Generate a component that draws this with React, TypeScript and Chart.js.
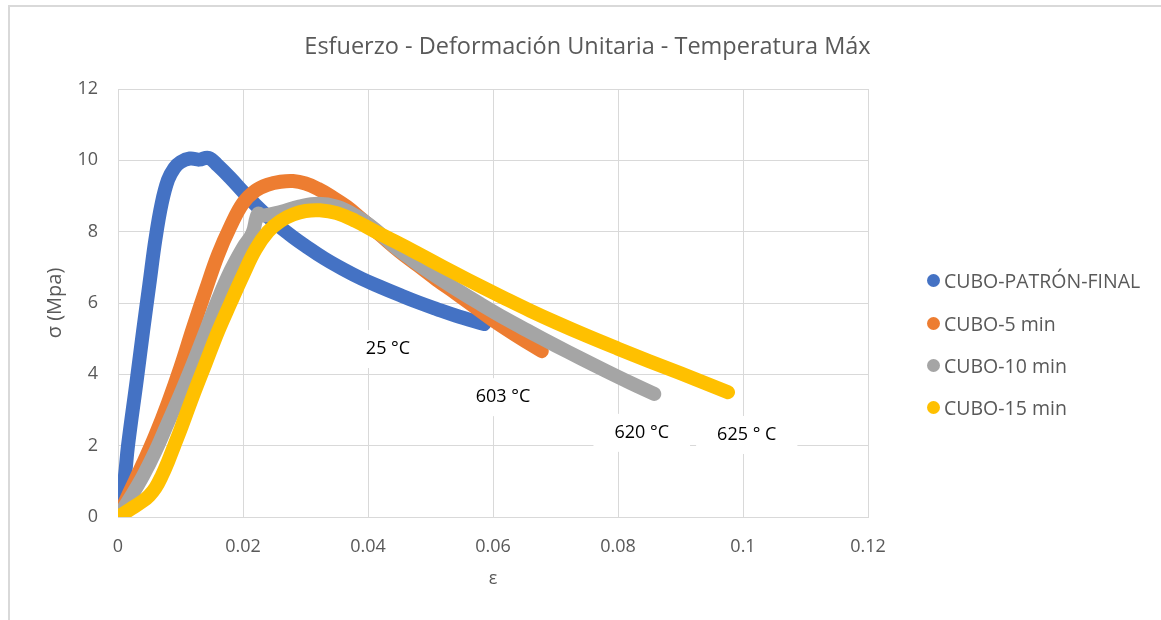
import React, { useEffect, useRef } from "react";
import { Chart, registerables } from "chart.js";

Chart.register(...registerables);

const FONT = '"Open Sans", "Noto Sans", sans-serif';

const chartTitle = "Esfuerzo - Deformación Unitaria - Temperatura Máx";
const xAxisTitle = "ε";
const yAxisTitle = "σ (Mpa)";

const seriesNames = ["CUBO-PATRÓN-FINAL", "CUBO-5 min", "CUBO-10 min", "CUBO-15 min"];
const seriesColors = ["#4472C4", "#ED7D31", "#A5A5A5", "#FFC000"];

const patronStrain = [0, 0.001, 0.0016, 0.003, 0.004, 0.005, 0.006, 0.007, 0.008, 0.009, 0.010, 0.0115, 0.013, 0.0145, 0.016, 0.018, 0.020, 0.022, 0.024, 0.026, 0.028, 0.030, 0.033, 0.036, 0.039, 0.042, 0.045, 0.048, 0.051, 0.054, 0.0586];
const patronStress = [0, 1.0, 2.0, 3.84, 5.2, 6.5, 7.8, 8.8, 9.45, 9.78, 9.95, 10.05, 10.02, 10.07, 9.85, 9.5, 9.12, 8.75, 8.42, 8.12, 7.85, 7.6, 7.25, 6.95, 6.68, 6.45, 6.23, 6.02, 5.83, 5.65, 5.41];

const min5Strain = [0, 0.002, 0.004, 0.006, 0.008, 0.010, 0.012, 0.014, 0.016, 0.018, 0.020, 0.022, 0.024, 0.026, 0.028, 0.030, 0.032, 0.034, 0.0366, 0.039, 0.042, 0.045, 0.048, 0.051, 0.054, 0.057, 0.060, 0.064, 0.0678];
const min5Stress = [0, 0.75, 1.5, 2.3, 3.2, 4.2, 5.3, 6.35, 7.35, 8.15, 8.8, 9.15, 9.32, 9.4, 9.42, 9.35, 9.2, 9.0, 8.7, 8.35, 7.9, 7.45, 7.05, 6.65, 6.28, 5.9, 5.52, 5.06, 4.65];

const min10Strain = [0, 0.002, 0.004, 0.006, 0.008, 0.010, 0.012, 0.014, 0.016, 0.018, 0.020, 0.0215, 0.0224, 0.0232, 0.026, 0.029, 0.032, 0.035, 0.038, 0.041, 0.044, 0.047, 0.050, 0.054, 0.058, 0.062, 0.066, 0.070, 0.074, 0.078, 0.082, 0.0858];
const min10Stress = [0, 0.55, 1.15, 1.85, 2.65, 3.45, 4.3, 5.2, 6.1, 6.9, 7.55, 7.95, 8.5, 8.45, 8.55, 8.7, 8.78, 8.7, 8.45, 8.08, 7.62, 7.22, 6.85, 6.4, 5.97, 5.56, 5.18, 4.81, 4.45, 4.1, 3.76, 3.45];

const min15Strain = [0, 0.002, 0.004, 0.005, 0.006, 0.007, 0.008, 0.009, 0.010, 0.012, 0.014, 0.016, 0.018, 0.020, 0.022, 0.024, 0.026, 0.028, 0.030, 0.0323, 0.035, 0.038, 0.041, 0.044, 0.047, 0.050, 0.054, 0.058, 0.062, 0.066, 0.070, 0.075, 0.080, 0.085, 0.090, 0.0976];
const min15Stress = [0, 0.22, 0.45, 0.6, 0.82, 1.15, 1.55, 2.0, 2.45, 3.4, 4.3, 5.2, 6.0, 6.78, 7.5, 8.0, 8.3, 8.48, 8.58, 8.6, 8.52, 8.3, 8.02, 7.75, 7.48, 7.2, 6.83, 6.47, 6.12, 5.78, 5.46, 5.08, 4.72, 4.37, 4.03, 3.5];

const xTicks = [0, 0.02, 0.04, 0.06, 0.08, 0.1, 0.12];
const xTickLabels = ["0", "0.02", "0.04", "0.06", "0.08", "0.1", "0.12"];
const yTicks = [0, 2, 4, 6, 8, 10, 12];

const tempLabels = ["25 °C", "603 °C", "620 °C", "625 ° C"];
const tempLabelX = [0.0432, 0.0616, 0.0838, 0.1006];
const tempLabelY = [4.71, 3.36, 2.36, 2.3];

const strains = [patronStrain, min5Strain, min10Strain, min15Strain];
const stresses = [patronStress, min5Stress, min10Stress, min15Stress];

const tempLabelPlugin = {
  id: "tempLabels",
  afterDatasetsDraw(chart: any) {
    const { ctx, scales } = chart;
    const xs = scales.x;
    const ys = scales.y;
    ctx.save();
    ctx.font = `18px ${FONT}`;
    ctx.textAlign = "center";
    ctx.textBaseline = "middle";
    tempLabels.forEach((t, i) => {
      const px = xs.getPixelForValue(tempLabelX[i]);
      const py = ys.getPixelForValue(tempLabelY[i]);
      const w = ctx.measureText(t).width + 42;
      ctx.fillStyle = "#ffffff";
      ctx.fillRect(px - w / 2, py - 19, w, 38);
      ctx.fillStyle = "#000000";
      ctx.fillText(t, px, py);
    });
    ctx.restore();
  },
};

export default function App() {
  const canvasRef = useRef<HTMLCanvasElement | null>(null);

  useEffect(() => {
    const canvas = canvasRef.current;
    if (!canvas) return;
    const datasets = seriesNames.map((name, i) => ({
      label: name,
      data: strains[i].map((x, j) => ({ x, y: stresses[i][j] })),
      showLine: true,
      borderColor: seriesColors[i],
      backgroundColor: seriesColors[i],
      borderWidth: 14,
      pointRadius: 0,
      pointHoverRadius: 0,
      tension: 0.4,
      borderCapStyle: "round" as const,
      borderJoinStyle: "round" as const,
      order: seriesNames.length - i,
      fill: false,
    }));

    const chart = new Chart(canvas, {
      type: "scatter",
      data: { datasets },
      options: {
        animation: false,
        responsive: false,
        devicePixelRatio: 1,
        layout: { padding: { left: 0, right: 293, top: 89, bottom: 0 } },
        plugins: {
          legend: { display: false },
          tooltip: { enabled: false },
          title: { display: false },
        },
        scales: {
          x: {
            type: "linear",
            min: 0,
            max: 0.12,
            afterBuildTicks: (axis: any) => {
              axis.ticks = xTicks.map((v) => ({ value: v }));
            },
            afterFit: (axis: any) => {
              axis.height = 103;
            },
            ticks: {
              color: "#595959",
              font: { family: FONT, size: 18 },
              padding: 19,
              maxRotation: 0,
              callback: (_v: any, idx: number) => xTickLabels[idx],
            },
            grid: { color: "#d9d9d9", lineWidth: 1, drawTicks: false },
            border: { display: true, color: "#d9d9d9" },
            title: {
              display: true,
              text: xAxisTitle,
              color: "#595959",
              font: { family: FONT, size: 18 },
              padding: { top: 0, bottom: 30 },
            },
          },
          y: {
            type: "linear",
            min: 0,
            max: 12,
            afterBuildTicks: (axis: any) => {
              axis.ticks = yTicks.map((v) => ({ value: v }));
            },
            afterFit: (axis: any) => {
              axis.width = 118;
            },
            ticks: {
              color: "#595959",
              font: { family: FONT, size: 18 },
              padding: 20,
            },
            grid: { color: "#d9d9d9", lineWidth: 1, drawTicks: false },
            border: { display: true, color: "#d9d9d9" },
            title: {
              display: true,
              text: yAxisTitle,
              color: "#595959",
              font: { family: FONT, size: 20 },
              padding: { top: 43, bottom: 0 },
            },
          },
        },
      },
      plugins: [tempLabelPlugin],
    } as any);

    return () => chart.destroy();
  }, []);

  const legendTop = [280, 323, 365, 407];

  return (
    <div style={{ position: "absolute", left: 0, top: 0, width: 1161, height: 620, background: "#fff", overflow: "hidden" }}>
      <div
        style={{
          position: "absolute",
          left: 8,
          top: 5,
          width: 1200,
          height: 700,
          border: "2px solid #d9d9d9",
          boxSizing: "border-box",
        }}
      />
      <canvas ref={canvasRef} width={1161} height={620} style={{ position: "absolute", left: 0, top: 0 }} />
      <div
        style={{
          position: "absolute",
          left: 0,
          top: 29,
          width: 1175,
          lineHeight: "32px",
          textAlign: "center",
          fontFamily: FONT,
          fontSize: 23.5,
          color: "#595959",
          whiteSpace: "nowrap",
        }}
      >
        {chartTitle}
      </div>
      {seriesNames.map((name, i) => (
        <div
          key={name}
          style={{
            position: "absolute",
            left: 927,
            top: legendTop[i] - 14,
            height: 28,
            display: "flex",
            alignItems: "center",
            fontFamily: FONT,
            fontSize: 19.5,
            color: "#595959",
            whiteSpace: "nowrap",
          }}
        >
          <span
            style={{
              display: "inline-block",
              width: 13,
              height: 13,
              borderRadius: "50%",
              background: seriesColors[i],
              marginRight: 4,
              flex: "none",
            }}
          />
          <span>{name}</span>
        </div>
      ))}
    </div>
  );
}
